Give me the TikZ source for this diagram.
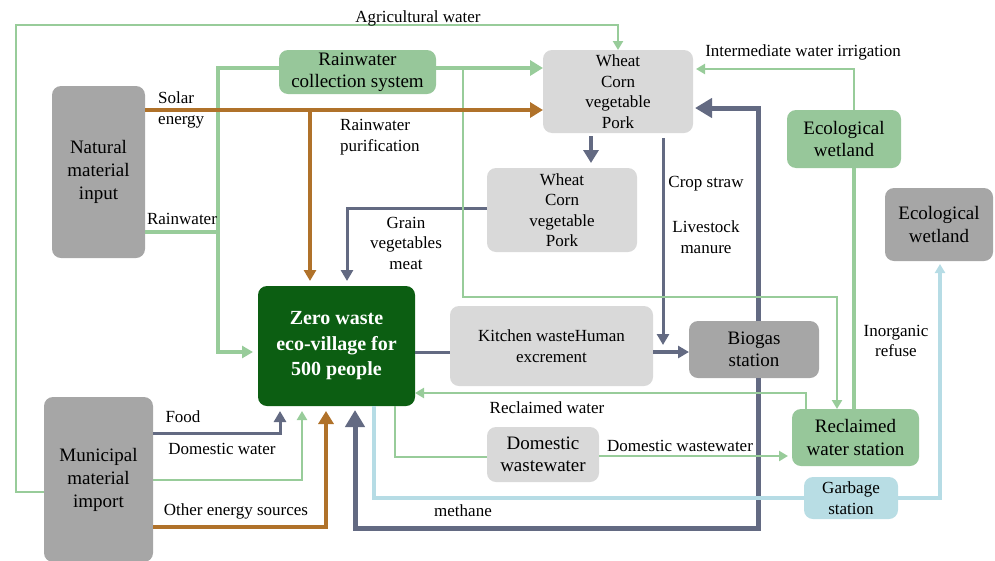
\documentclass[tikz,border=0pt]{standalone}
\usepackage{fontspec}
\setmainfont{Liberation Serif}
\usetikzlibrary{arrows.meta}
\definecolor{gline}{HTML}{98CC9A}
\definecolor{gbox}{HTML}{97C79A}
\definecolor{dgreen}{HTML}{0C5E12}
\definecolor{slate}{HTML}{636A82}
\definecolor{brownl}{HTML}{B0722A}
\definecolor{bline}{HTML}{B6DCE5}
\definecolor{bbox}{HTML}{B8DDE4}
\definecolor{grayb}{HTML}{A6A6A6}
\definecolor{lgray}{HTML}{D9D9D9}
\begin{document}
\begin{tikzpicture}[x=1pt,y=-1pt,
  box/.style={rounded corners=9pt, align=center, inner sep=0pt, outer sep=0pt},
  big/.style={font=\fontsize{19}{23}\selectfont},
  mid/.style={font=\fontsize{17}{20.5}\selectfont},
  lab/.style={font=\fontsize{17}{20.5}\selectfont, align=center, inner sep=0pt},
  tipS/.style={-{Triangle[length=9pt,width=10pt]}},
  tipM/.style={-{Triangle[length=11pt,width=12pt]}},
  tipB/.style={-{Triangle[length=13pt,width=15pt]}},
  tipL/.style={-{Triangle[length=17pt,width=19pt]}},
  gthin/.style={draw=gline, line width=2.8pt},
  gmed/.style={draw=gline, line width=3.5pt},
  gthick/.style={draw=gline, line width=4.5pt},
  sl/.style={draw=slate, line width=#1},
  br/.style={draw=brownl, line width=#1},
  bl/.style={draw=bline, line width=3.5pt}
]
\useasboundingbox (0,0) rectangle (995,560);

% nodes
\node[box,big,fill=grayb,minimum width=93pt,minimum height=172pt] (nat) at (98.5,172) {Natural\\material\\input};
\node[box,font=\fontsize{19}{22}\selectfont,fill=gbox,minimum width=157pt,minimum height=44pt] (rain) at (357.5,72) {Rainwater\\collection system};
\node[box,mid,fill=lgray,minimum width=150pt,minimum height=83pt] (wh1) at (618,91.5) {Wheat\\Corn\\vegetable\\Pork};
\node[box,mid,fill=lgray,minimum width=150pt,minimum height=84pt] (wh2) at (562,210) {Wheat\\Corn\\vegetable\\Pork};
\node[box,font=\fontsize{19}{22.5}\selectfont,fill=gbox,minimum width=114pt,minimum height=58pt] (eco1) at (844,139) {Ecological\\wetland};
\node[box,font=\fontsize{19}{22.5}\selectfont,fill=grayb,minimum width=108pt,minimum height=73pt] (eco2) at (939,224.5) {Ecological\\wetland};
\node[box,fill=dgreen,text=white,font=\bfseries\fontsize{20}{25.5}\selectfont,minimum width=157pt,minimum height=120pt] (zero) at (336.5,346) {Zero waste\\eco-village for\\500 people};
\node[box,mid,fill=lgray,minimum width=203pt,minimum height=80pt] (kit) at (551.5,346) {Kitchen wasteHuman\\excrement};
\node[box,font=\fontsize{19}{22.5}\selectfont,fill=grayb,minimum width=130pt,minimum height=57pt] (bio) at (754,349.5) {Biogas\\station};
\node[box,font=\fontsize{19}{22.5}\selectfont,fill=gbox,minimum width=127pt,minimum height=57pt] (recl) at (855.5,437.5) {Reclaimed\\water station};
\node[box,mid,fill=bbox,minimum width=94pt,minimum height=42pt] (garb) at (851,498) {Garbage\\station};
\node[box,font=\fontsize{19}{22.5}\selectfont,fill=lgray,minimum width=112pt,minimum height=55pt] (domw) at (543,454.5) {Domestic\\wastewater};
\node[box,big,fill=grayb,minimum width=109pt,minimum height=165pt] (muni) at (98.5,479.5) {Municipal\\material\\import};

% slate lines
\draw[sl=4pt,tipB,shorten <=3pt,shorten >=5pt] (wh1.south -| 591,0) -- (wh2.north -| 591,0);
\draw[sl=3pt,tipM,shorten >=5pt] (wh2.west |- 0,208) -| (zero.north -| 347,0);
\draw[sl=3pt,tipM,shorten <=5pt] (wh1.south -| 663,0) -- (663,345);
\draw[sl=3.5pt,tipM] (kit.east |- 0,352) -- (bio.west |- 0,352);
\draw[sl=3pt] (zero.east |- 0,352) -- (kit.west |- 0,352);
\draw[sl=5pt,tipL,shorten >=2pt] (bio.north -| 758,0) -- (758,108) -- (wh1.east |- 0,108);
\draw[sl=5pt,tipL,shorten >=4pt] (bio.south -| 758,0) -- (758,528) -- (355,528) -- (zero.south -| 355,0);
\draw[sl=3pt,tipM,shorten >=5pt] (muni.east |- 0,433) -| (zero.south -| 280,0);

% green lines
\draw[gthin,tipS] (muni.west |- 0,492) -- (16,492) -- (16,25) -| (wh1.north);
\draw[gmed,tipM,shorten >=5pt] (rain.west |- 0,68) -| (218,352) -- (zero.west |- 0,352);
\draw[gmed] (nat.east |- 0,232) -- (218,232);
\draw[gthick,tipB] (rain.east |- 0,68) -- (wh1.west |- 0,68);
\draw[gthin,tipS] (463,68) -- (463,297) -- (837,297) -- (recl.north -| 837,0);
\draw[gmed] (recl.north -| 854,0) -- (eco1.south -| 854,0);
\draw[gthin,tipS,shorten >=3pt] (eco1.north -| 854,0) -- (854,69) -- (wh1.east |- 0,69);
\draw[gthin,tipS] (recl.north -| 806,0) -- (806,393) -- (zero.east |- 0,393);
\draw[gthin] (zero.south -| 395,0) |- (domw.west |- 0,457);
\draw[gthin,tipS,shorten >=4pt] (domw.east |- 0,456) -- (recl.west |- 0,456);
\draw[gthin,tipS,shorten >=5pt] (muni.east |- 0,480) -| (zero.south -| 302,0);

% blue lines
\draw[bl] (zero.south -| 374,0) |- (garb.west |- 0,498);
\draw[bl,tipS,shorten >=3pt] (garb.east) -- (940,498) -- (eco2.south -| 940,0);

% brown lines
\draw[br=4pt,tipB] (nat.east |- 0,110) -- (wh1.west |- 0,110);
\draw[br=3.5pt,tipM,shorten >=5pt] (310,110) -- (zero.north -| 310,0);
\draw[br=3.5pt,tipB,shorten >=5pt] (muni.east |- 0,527) -| (zero.south -| 326,0);

% labels
\node[lab] (lagr) at (418,18) {Agricultural water};
\node[lab,align=left,anchor=west] (lsol) at (158,110) {Solar\\energy};
\node[lab,align=left,anchor=west] (lpur) at (340,137) {Rainwater\\purification};
\node[lab] (lrw) at (182,219) {Rainwater};
\node[lab] (lgrain) at (406,243) {Grain\\vegetables\\meat};
\node[lab] (lcrop) at (706,184) {Crop straw};
\node[lab] (llive) at (706,237) {Livestock\\manure};
\node[lab] (lint) at (803,52) {Intermediate water irrigation};
\node[lab] (linorg) at (896,341) {Inorganic\\refuse};
\node[lab] (lrec) at (547,408) {Reclaimed water};
\node[lab] (ldww) at (680,446) {Domestic wastewater};
\node[lab] (lmeth) at (463,511) {methane};
\node[lab] (lfood) at (183,417) {Food};
\node[lab] (ldw) at (222,449) {Domestic water};
\node[lab] (loth) at (236,511) {Other energy sources};
\end{tikzpicture}
\end{document}
